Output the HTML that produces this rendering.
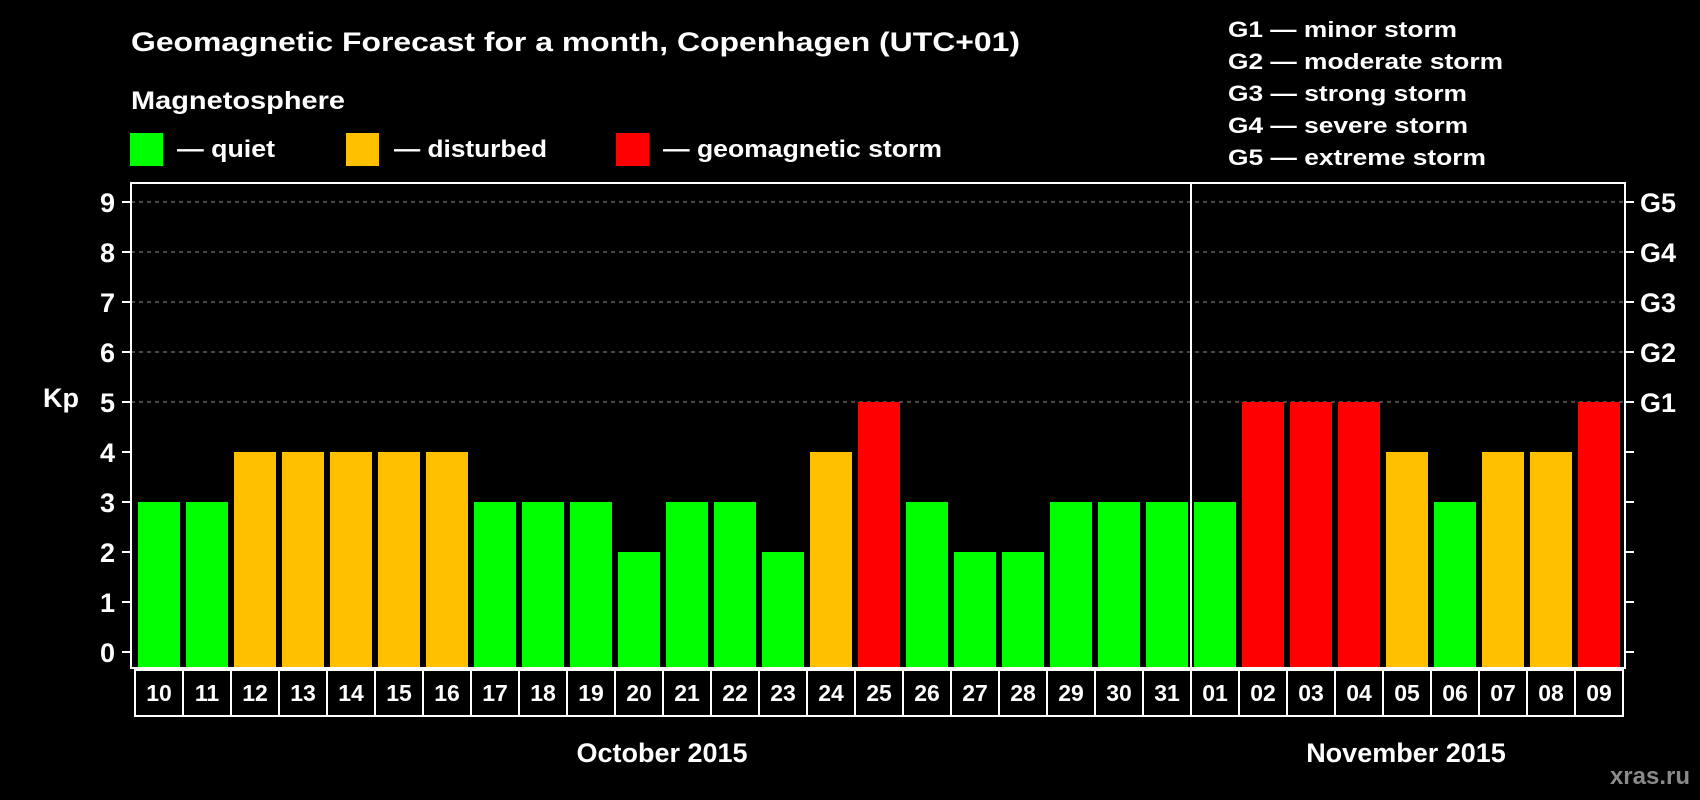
<!DOCTYPE html>
<html><head><meta charset="utf-8"><style>
html,body{margin:0;padding:0;background:#000;width:1700px;height:800px;overflow:hidden}
svg{display:block;font-family:"Liberation Sans",sans-serif;font-weight:bold}
</style></head><body>
<svg id="chart" width="1700" height="800" viewBox="0 0 1700 800">
<rect x="0" y="0" width="1700" height="800" fill="#000"/>
<text x="131" y="51" fill="#fff" font-size="27" textLength="889" lengthAdjust="spacingAndGlyphs">Geomagnetic Forecast for a month, Copenhagen (UTC+01)</text>
<text x="131" y="109" fill="#fff" font-size="25" textLength="214" lengthAdjust="spacingAndGlyphs">Magnetosphere</text>
<rect x="130" y="133" width="33" height="33" fill="#00ff00"/>
<text x="177" y="157" fill="#fff" font-size="24" textLength="98" lengthAdjust="spacingAndGlyphs">— quiet</text>
<rect x="346" y="133" width="33" height="33" fill="#ffc000"/>
<text x="394" y="157" fill="#fff" font-size="24" textLength="153" lengthAdjust="spacingAndGlyphs">— disturbed</text>
<rect x="616" y="133" width="33" height="33" fill="#ff0000"/>
<text x="663" y="157" fill="#fff" font-size="24" textLength="279" lengthAdjust="spacingAndGlyphs">— geomagnetic storm</text>
<g fill="#fff" font-size="22">
<text x="1228" y="37" textLength="229" lengthAdjust="spacingAndGlyphs">G1 — minor storm</text>
<text x="1228" y="69" textLength="275" lengthAdjust="spacingAndGlyphs">G2 — moderate storm</text>
<text x="1228" y="101" textLength="239" lengthAdjust="spacingAndGlyphs">G3 — strong storm</text>
<text x="1228" y="133" textLength="240" lengthAdjust="spacingAndGlyphs">G4 — severe storm</text>
<text x="1228" y="165" textLength="258" lengthAdjust="spacingAndGlyphs">G5 — extreme storm</text>
</g>
<text x="43" y="407" fill="#fff" font-size="27">Kp</text>
<text x="662" y="762" fill="#fff" font-size="27" text-anchor="middle">October 2015</text>
<text x="1406" y="762" fill="#fff" font-size="27" text-anchor="middle">November 2015</text>
<text x="1690" y="784" fill="#8a8a8a" font-size="24" text-anchor="end">xras.ru</text>
</svg>
<script>
const days = ["10","11","12","13","14","15","16","17","18","19","20","21","22","23","24","25","26","27","28","29","30","31","01","02","03","04","05","06","07","08","09"];
const kpValues = [3,3,4,4,4,4,4,3,3,3,2,3,3,2,4,5,3,2,2,3,3,3,3,5,5,5,4,3,4,4,5];
const yTicks = [0,1,2,3,4,5,6,7,8,9];
const gLabels = ["G1","G2","G3","G4","G5"];
const gLevels = [5,6,7,8,9];
const monthSplitIndex = 22;

const svg = document.getElementById('chart');
const NS = 'http://www.w3.org/2000/svg';
const plotL = 131, plotR = 1625, plotT = 183, plotB = 668;
const boxStart = 135, pitch = 48;
function yScale(v){ return 652 - v * 50; }
function xBox(i){ return boxStart + i * pitch; }
function mk(tag, attrs){ const e = document.createElementNS(NS, tag); for (const k in attrs) e.setAttribute(k, attrs[k]); svg.appendChild(e); return e; }
function color(v){ return v >= 5 ? '#ff0000' : (v >= 4 ? '#ffc000' : '#00ff00'); }

// grid lines
gLevels.forEach(v => {
  const g = mk('line', {x1: plotL, x2: plotR, y1: yScale(v), y2: yScale(v), stroke: '#909090', 'stroke-width': 1, 'stroke-dasharray': '4,4'});
  
  
});
// bars
kpValues.forEach((v, i) => {
  const b = mk('rect', {x: xBox(i) + 3, y: yScale(v), width: 42, height: plotB - yScale(v), fill: color(v)});
  
  
});
// plot frame
const fr = mk('rect', {x: plotL, y: plotT, width: plotR - plotL, height: plotB - plotT, fill: 'none', stroke: '#fff', 'stroke-width': 2});


const dv = mk('line', {x1: xBox(monthSplitIndex), x2: xBox(monthSplitIndex), y1: plotT, y2: plotB, stroke: '#fff', 'stroke-width': 2});


// y ticks and labels
yTicks.forEach(v => {
  const t1 = mk('line', {x1: 122, x2: plotL, y1: yScale(v), y2: yScale(v), stroke: '#fff', 'stroke-width': 2});
  
  
  const t2 = mk('line', {x1: plotR, x2: 1634, y1: yScale(v), y2: yScale(v), stroke: '#fff', 'stroke-width': 2});
  
  
  const lb = mk('text', {x: 115, y: yScale(v) + 10, fill: '#fff', 'font-size': 27, 'text-anchor': 'end'});
  lb.textContent = v;
  
  
});
gLabels.forEach((g, i) => {
  const lb = mk('text', {x: 1640, y: yScale(gLevels[i]) + 10, fill: '#fff', 'font-size': 27});
  lb.textContent = g;
  
  
});
// day boxes
days.forEach((d, i) => {
  const r = mk('rect', {x: xBox(i), y: 670, width: pitch, height: 46, fill: 'none', stroke: '#fff', 'stroke-width': 2});
  
  
  const t = mk('text', {x: xBox(i) + pitch / 2, y: 701, fill: '#fff', 'font-size': 23, 'text-anchor': 'middle'});
  t.textContent = d;
  
  
});
</script>
</body></html>
